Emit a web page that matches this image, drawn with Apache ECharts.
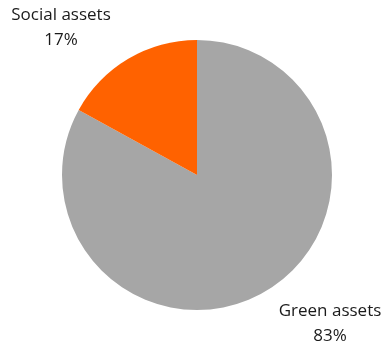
<!DOCTYPE html>
<html>
<head>
<meta charset="utf-8">
<script src="https://cdn.jsdelivr.net/npm/echarts@6/dist/echarts.min.js"></script>
<style>
  html, body { margin: 0; padding: 0; background: #fff; }
  #chart { width: 384px; height: 347px; }
</style>
</head>
<body>
<div id="chart"></div>
<script>
// Share of assets by type (%)
const categories = ['Green assets', 'Social assets'];
const shares = [83, 17];
const colors = ['#a6a6a6', '#ff6200'];

// Where each slice's caption sits (centre of the text block)
const labelSpots = [
  { x: 330, y: 324 },
  { x: 61, y: 28 }
];

const chart = echarts.init(document.getElementById('chart'), null, { renderer: 'canvas' });

chart.setOption({
  animation: false,
  series: [{
    type: 'pie',
    center: [197, 175],
    radius: [0, 135],
    startAngle: 90,
    clockwise: true,
    avoidLabelOverlap: false,
    data: categories.map((name, i) => ({
      name,
      value: shares[i],
      itemStyle: { color: colors[i] }
    })),
    label: {
      show: true,
      position: 'outside',
      formatter: p => p.name + '\n' + p.value + '%',
      color: '#1a1a1a',
      fontFamily: '"Open Sans", sans-serif',
      fontSize: 17,
      lineHeight: 25,
      align: 'center'
    },
    labelLine: { show: false },
    labelLayout: params => ({
      x: labelSpots[params.dataIndex].x,
      y: labelSpots[params.dataIndex].y,
      align: 'center',
      verticalAlign: 'middle'
    }),
    emphasis: { disabled: true }
  }]
});
</script>
</body>
</html>
